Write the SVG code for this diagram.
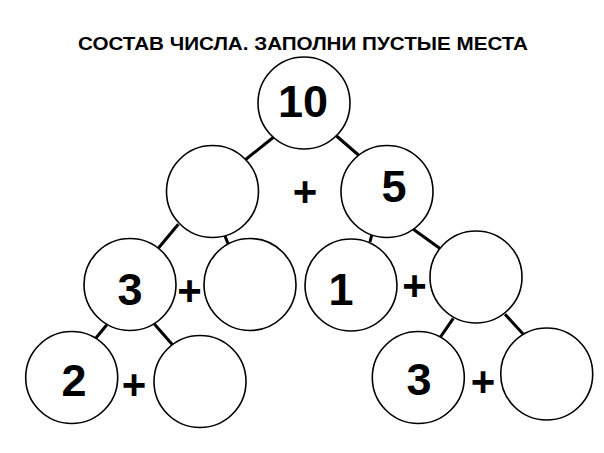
<svg xmlns="http://www.w3.org/2000/svg" width="604" height="453" viewBox="0 0 604 453">
<style>
.c{fill:#fff;stroke:#000;stroke-width:1.6}
.n{font-family:"Liberation Sans",Arial,sans-serif;font-weight:bold;font-size:45px;text-anchor:middle;fill:#000}
.p{font-family:"Liberation Sans",Arial,sans-serif;font-weight:bold;font-size:42px;text-anchor:middle;fill:#000}
.t{font-family:"Liberation Sans",Arial,sans-serif;font-weight:bold;font-size:17.5px;text-anchor:middle;fill:#000}
#edges line{stroke:#000;stroke-width:3}
</style>
<rect width="604" height="453" fill="#fff"/>
<text class="t" x="303" y="49.5" textLength="450" lengthAdjust="spacingAndGlyphs">СОСТАВ ЧИСЛА. ЗАПОЛНИ ПУСТЫЕ МЕСТА</text>
<g id="edges">
<line x1="275" y1="136" x2="245" y2="160"/>
<line x1="336.5" y1="136" x2="359" y2="155.5"/>
<line x1="178.3" y1="224.3" x2="158.3" y2="248.3"/>
<line x1="225" y1="236" x2="228.5" y2="245"/>
<line x1="371.7" y1="235" x2="370" y2="242"/>
<line x1="413.3" y1="229.3" x2="440" y2="248.5"/>
<line x1="106.7" y1="325" x2="95.7" y2="338.3"/>
<line x1="154.3" y1="324" x2="172.7" y2="345"/>
<line x1="453.3" y1="318.3" x2="440.7" y2="336.7"/>
<line x1="505" y1="314.3" x2="524" y2="335"/>
</g>
<g id="n10"><circle class="c" cx="304" cy="103" r="46"/><text class="n" x="303" y="117">10</text></g>
<g id="nL"><circle class="c" cx="212.5" cy="191.5" r="46"/></g>
<g id="plus1"><text class="p" x="305" y="206">+</text></g>
<g id="n5"><circle class="c" cx="387" cy="191.5" r="46"/><text class="n" x="394" y="202">5</text></g>
<g id="n3a"><circle class="c" cx="130" cy="284.5" r="46"/><text class="n" x="130" y="305">3</text></g>
<g id="plus2"><text class="p" x="189.5" y="305">+</text></g>
<g id="nLR"><circle class="c" cx="250" cy="284.5" r="46"/></g>
<g id="n1"><circle class="c" cx="351" cy="285" r="46"/><text class="n" x="341" y="305">1</text></g>
<g id="plus3"><text class="p" x="414.5" y="300">+</text></g>
<g id="nRR"><circle class="c" cx="476" cy="277" r="46"/></g>
<g id="n2"><circle class="c" cx="71.7" cy="377.5" r="46"/><text class="n" x="74" y="396">2</text></g>
<g id="plus4"><text class="p" x="134" y="399">+</text></g>
<g id="nLB"><circle class="c" cx="200" cy="381.5" r="46"/></g>
<g id="n3b"><circle class="c" cx="418.3" cy="377.5" r="46"/><text class="n" x="419" y="395">3</text></g>
<g id="plus5"><text class="p" x="483" y="396">+</text></g>
<g id="nRB"><circle class="c" cx="546.7" cy="374" r="46"/></g>
</svg>
